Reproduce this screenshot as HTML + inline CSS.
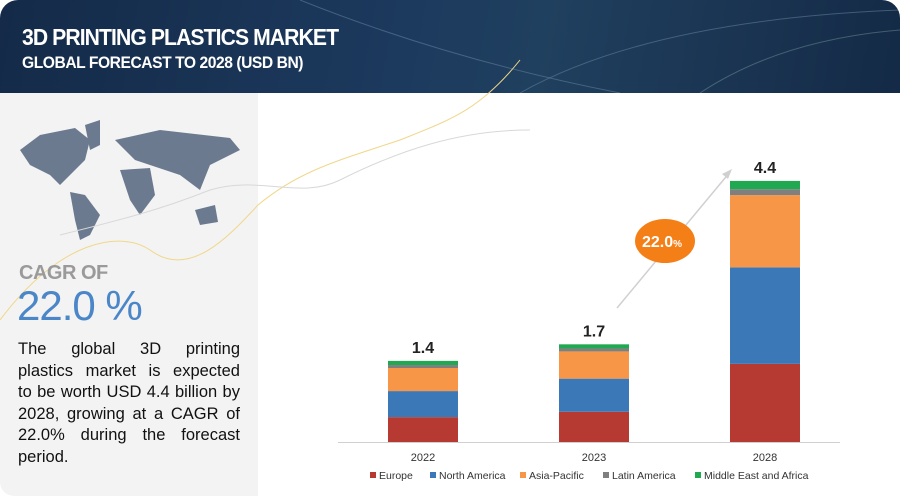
<!DOCTYPE html>
<html><head><meta charset="utf-8"><style>
body{margin:0;width:900px;height:496px;overflow:hidden;background:#fff;font-family:"Liberation Sans",sans-serif;position:relative}
#hdr{position:absolute;left:0;top:0;width:900px;height:93px;background:linear-gradient(100deg,#142a48 0%,#1c3a5e 45%,#20405f 60%,#142a46 100%);border-top-left-radius:18px;border-top-right-radius:18px;overflow:hidden}
#t1{position:absolute;left:22px;top:24px;color:#fff;font-weight:bold;font-size:23px;letter-spacing:-1px;transform:scaleX(.92);transform-origin:left}
#t2{position:absolute;left:22px;top:53px;color:#fff;font-weight:bold;font-size:17px;letter-spacing:-.5px;transform:scaleX(.92);transform-origin:left}
#left{position:absolute;left:0;top:93px;width:258px;height:403px;background:#f3f3f3;border-bottom-left-radius:14px}
#cagr1{position:absolute;left:19px;top:262px;color:#9a9a9a;font-weight:bold;font-size:20px;letter-spacing:-.5px}
#cagr2{position:absolute;left:17px;top:282px;color:#4a86c8;font-size:42px;letter-spacing:-1px}
#para{position:absolute;left:18px;top:339px;width:222px;font-size:16.5px;line-height:21.6px;color:#111}
#para .j{text-align:justify;text-align-last:justify;white-space:nowrap}
</style></head><body>
<div id="hdr">
<svg width="900" height="93" style="position:absolute;left:0;top:0">
<path d="M300 0 Q450 60 620 93" stroke="#6c8aa8" stroke-width="1" fill="none" opacity=".5"/>
<path d="M520 93 Q650 20 900 10" stroke="#6c8aa8" stroke-width="1" fill="none" opacity=".5"/>
<path d="M700 93 Q780 40 900 30" stroke="#8aa" stroke-width="1" fill="none" opacity=".4"/>
</svg>
<div id="t1">3D PRINTING PLASTICS MARKET</div>
<div id="t2">GLOBAL FORECAST TO 2028 (USD BN)</div>
</div>
<div id="left"></div>
<svg width="900" height="496" style="position:absolute;left:0;top:0">
<g fill="#6b7a8f">
<path d="M20 150 L40 135 L75 128 L90 140 L85 160 L70 175 L60 185 L50 175 L30 165 Z"/>
<path d="M70 192 L85 195 L100 215 L90 235 L80 240 L75 220 Z"/>
<path d="M85 125 L100 120 L100 145 L90 150 Z"/>
<path d="M115 140 L160 130 L230 138 L240 150 L210 165 L200 190 L180 175 L150 165 L135 160 Z"/>
<path d="M120 170 L150 168 L155 195 L140 215 L130 200 Z"/>
<path d="M195 210 L215 205 L218 222 L200 225 Z"/>
</g>
<path d="M0 320 C60 240 120 230 150 250 C190 280 230 235 258 205 C300 170 340 160 400 140 C450 120 480 110 520 60" stroke="#f0d78a" stroke-width="1" fill="none"/>
<path d="M60 235 C120 220 160 210 210 190 C260 175 300 200 340 180 C400 150 460 130 530 130" stroke="#d8d8d8" stroke-width="1" fill="none"/>
<g id="chart"></g>
</svg>
<div id="cagr1">CAGR OF</div>
<div id="cagr2">22.0 %</div>
<div id="para"><div class="j">The global 3D printing</div><div class="j">plastics market is expected</div><div class="j">to be worth USD 4.4 billion by</div><div class="j">2028, growing at a CAGR of</div><div class="j">22.0% during the forecast</div><div>period.</div></div>
<script>
const categories=["2022","2023","2028"];
const totals=["1.4","1.7","4.4"];
const seriesNames=["Europe","North America","Asia-Pacific","Latin America","Middle East and Africa"];
const europe=[0.42,0.51,1.32];
const northAmerica=[0.44,0.56,1.63];
const asiaPacific=[0.39,0.46,1.22];
const latinAmerica=[0.05,0.05,0.10];
const mea=[0.07,0.07,0.14];
const series=[europe,northAmerica,asiaPacific,latinAmerica,mea];
const colors=["#b63a32","#3a78b8","#f79646","#7f7f7f","#21a952"];
const NS="http://www.w3.org/2000/svg";
const g=document.getElementById('chart');
const baseY=442,pxPer=59.2;
const y=v=>baseY-v*pxPer;
const xc=i=>423+i*171;
const bw=70;
function mk(t,a){const e=document.createElementNS(NS,t);for(const k in a)e.setAttribute(k,a[k]);g.appendChild(e);return e;}
let ax=mk('line',{x1:338,y1:baseY+0.5,x2:840,y2:baseY+0.5,stroke:'#d0d0d0','stroke-width':1});


categories.forEach((c,i)=>{
  let acc=0;
  series.forEach((s,j)=>{
    const r=mk('rect',{x:xc(i)-bw/2,y:y(acc+s[i]),width:bw,height:s[i]*pxPer,fill:colors[j]});
    
    
    acc+=s[i];
  });
  const tl=mk('text',{x:xc(i),y:y(acc)-8,'text-anchor':'middle','font-size':'16','font-weight':'bold',fill:'#222'});
  tl.textContent=totals[i];
  
  
  const xl=mk('text',{x:xc(i),y:461,'text-anchor':'middle','font-size':'11',fill:'#333'});
  xl.textContent=c;
  
  
});
const arrow=mk('path',{d:'M617 308 L730 172',stroke:'#d0d0d0','stroke-width':1.5,fill:'none'});


const ah=mk('path',{d:'M732 169 L722 174 L728 179 Z',fill:'#d0d0d0'});


const el=mk('ellipse',{cx:665,cy:241,rx:30,ry:22,fill:'#f57f17'});


const bt=mk('text',{x:662,y:247,'text-anchor':'middle','font-size':'16','font-weight':'bold',fill:'#fff'});
bt.innerHTML='22.0<tspan font-size="10">%</tspan>';


const lx=[370,430,520,603,695];
seriesNames.forEach((n,j)=>{
  const r=mk('rect',{x:lx[j],y:472,width:6,height:6,fill:colors[j]});
  
  
  const t=mk('text',{x:lx[j]+9,y:479,'font-size':'10.5',fill:'#333'});
  t.textContent=n;
  
  
});
</script>
</body></html>
